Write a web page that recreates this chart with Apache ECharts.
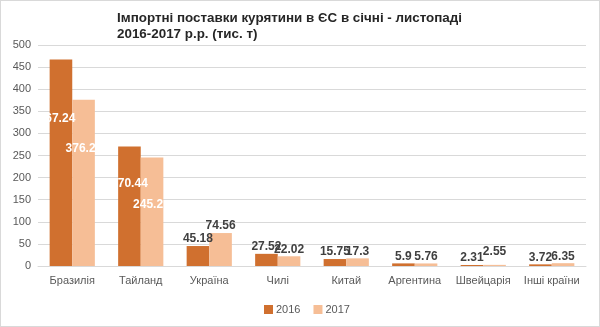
<!DOCTYPE html>
<html>
<head>
<meta charset="utf-8">
<script src="https://cdn.jsdelivr.net/npm/echarts@6/dist/echarts.min.js"></script>
<style>
  html, body { margin: 0; padding: 0; background: #ffffff; }
  #chart { width: 598px; height: 325px; border: 1px solid #d9d9d9; }
</style>
</head>
<body>
<div id="chart"></div>
<script>
// Poultry meat imports into the EU, Jan–Nov, thousand tonnes
const countries = ['Бразилія', 'Тайланд', 'Україна', 'Чилі', 'Китай', 'Аргентина', 'Швейцарія', 'Інші країни'];
const imports2016 = [467.24, 270.44, 45.18, 27.52, 15.75, 5.9, 2.31, 3.72];
const imports2017 = [376.2, 245.2, 74.56, 22.02, 17.3, 5.76, 2.55, 6.35];
const yTicks = { min: 0, max: 500, interval: 50 };

// Large bars carry their value label inside, in white, a little below the top
const insideLabel2016 = { 0: 53, 1: 31 };
const insideLabel2017 = { 0: 43, 1: 41 };
// Horizontal nudges for the inside labels, and a lift for a crowded small label
const insideShift2016 = { 0: -4 };
const insideShift2017 = { 0: -3, 1: -4 };
const liftedLabel2017 = { 6: 6 };

const FONT = '"Liberation Sans", Arial, sans-serif';
const COLOR_2016 = '#D0702F';
const COLOR_2017 = '#F6BE96';

function buildItems(values, inside, dx, lift) {
  return values.map((v, i) => {
    if (inside[i] !== undefined) {
      return {
        value: v,
        label: {
          position: 'insideTop',
          distance: inside[i],
          offset: [dx[i] || 0, 0],
          color: '#ffffff'
        }
      };
    }
    if (lift && lift[i] !== undefined) {
      return { value: v, label: { offset: [0, -lift[i]] } };
    }
    return v;
  });
}

const chart = echarts.init(document.getElementById('chart'), null, { renderer: 'canvas' });

const valueLabel = {
  show: true,
  position: 'top',
  distance: 1,
  fontFamily: FONT,
  fontSize: 12,
  fontWeight: 'bold',
  color: '#404040'
};

chart.setOption({
  animation: false,
  backgroundColor: '#ffffff',
  textStyle: { fontFamily: FONT },
  title: {
    text: 'Імпортні поставки курятини в ЄС в січні - листопаді\n2016-2017 р.р. (тис. т)',
    left: 111,
    top: 4,
    textStyle: {
      fontFamily: FONT,
      fontSize: 13.4,
      fontWeight: 'bold',
      color: '#262626',
      lineHeight: 16
    }
  },
  legend: {
    top: 298,
    left: 258,
    itemWidth: 9,
    itemHeight: 9,
    itemGap: 13,
    icon: 'rect',
    textStyle: { fontFamily: FONT, fontSize: 11, color: '#595959', padding: [0, 0, 0, -2] },
    data: ['2016', '2017']
  },
  grid: { left: 37, right: 13, top: 44, bottom: 60 },
  xAxis: {
    type: 'category',
    data: countries,
    axisTick: { show: false },
    axisLine: { show: true, lineStyle: { color: '#d9d9d9' } },
    axisLabel: { fontFamily: FONT, fontSize: 11, color: '#595959', margin: 9, interval: 0 }
  },
  yAxis: {
    type: 'value',
    min: yTicks.min,
    max: yTicks.max,
    interval: yTicks.interval,
    axisLine: { show: false },
    axisTick: { show: false },
    splitLine: { lineStyle: { color: '#d9d9d9' } },
    axisLabel: { fontFamily: FONT, fontSize: 11, color: '#595959', margin: 7 }
  },
  series: [
    {
      name: '2016',
      type: 'bar',
      barGap: '0%',
      barCategoryGap: '34%',
      itemStyle: { color: COLOR_2016 },
      label: valueLabel,
      data: buildItems(imports2016, insideLabel2016, insideShift2016)
    },
    {
      name: '2017',
      type: 'bar',
      barGap: '0%',
      barCategoryGap: '34%',
      itemStyle: { color: COLOR_2017 },
      label: valueLabel,
      data: buildItems(imports2017, insideLabel2017, insideShift2017, liftedLabel2017)
    }
  ]
});
</script>
</body>
</html>
